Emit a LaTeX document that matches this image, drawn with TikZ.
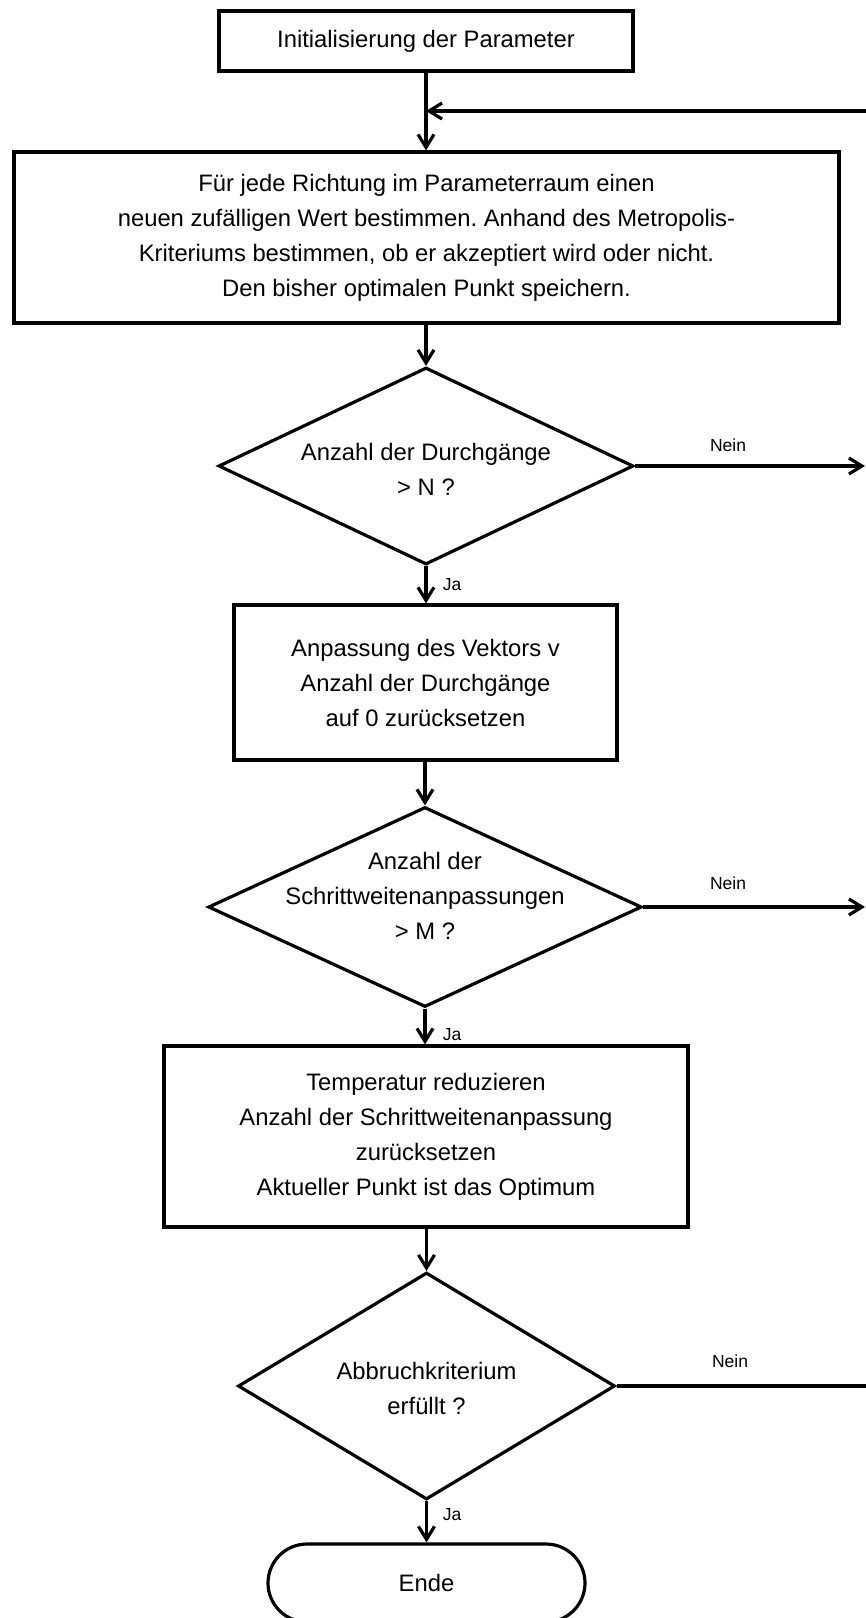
\documentclass[tikz,border=0pt]{standalone}
\usepackage{fontspec}
\setmainfont{Liberation Sans}
\usetikzlibrary{shapes.geometric,arrows.meta}
\frenchspacing
\begin{document}
\begin{tikzpicture}[x=0.5pt,y=-0.5pt,
  every node/.style={font=\fontsize{11.9}{17.5}\selectfont},
  box/.style={draw,line width=1.6pt,rectangle,inner sep=0pt,align=center},
  dia/.style={draw,line width=1.6pt,diamond,inner sep=0pt},
  endbox/.style={draw,line width=1.6pt,rectangle,rounded corners=19.5pt,inner sep=0pt},
  txt/.style={align=center,inner sep=0pt},
  lbl/.style={font=\fontsize{8.75}{10}\selectfont,inner sep=0pt},
  arr/.style={line width=1.6pt,-{Straight Barb[length=6.5pt,width=8pt]}},
  ln/.style={line width=1.6pt}]
\useasboundingbox (0,0) rectangle (866,1618);

\node[box,minimum width=207pt,minimum height=30pt] (b1) at (426,41) {Initialisierung der Parameter};
\node[box,minimum width=412.5pt,minimum height=85.5pt] (b2) at (426.5,237.5)
  {Für jede Richtung im Parameterraum einen\\neuen zufälligen Wert bestimmen. Anhand des Metropolis-\\Kriteriums bestimmen, ob er akzeptiert wird oder nicht.\\Den bisher optimalen Punkt speichern.};
\node[dia,minimum width=207.5pt,minimum height=98.5pt] (d1) at (426,466) {};
\node[txt] (d1t) at (426,469) {Anzahl der Durchgänge\\> N ?};
\node[box,minimum width=191.5pt,minimum height=77.5pt] (b3) at (425.5,682.5)
  {Anpassung des Vektors v\\Anzahl der Durchgänge\\auf 0 zurücksetzen};
\node[dia,minimum width=216.75pt,minimum height=100pt] (d2) at (425,907) {};
\node[txt] (d2t) at (425,896) {Anzahl der\\Schrittweitenanpassungen\\> M ?};
\node[box,minimum width=262pt,minimum height=90.5pt] (b4) at (426,1136.5)
  {Temperatur reduzieren\\Anzahl der Schrittweitenanpassung\\zurücksetzen\\Aktueller Punkt ist das Optimum};
\node[dia,minimum width=188.5pt,minimum height=113.5pt] (d3) at (426.5,1386) {};
\node[txt] (d3t) at (426.5,1388) {Abbruchkriterium\\erfüllt ?};
\node[endbox,minimum width=158.5pt,minimum height=39pt] (ende) at (426.5,1583) {Ende};

\coordinate (fb) at (866,111);
\coordinate (n1) at (865,466);
\coordinate (n2) at (865,907);
\coordinate (n3) at (866,1386);

\draw[arr] (b1.south) -- (b1.south |- b2.north);
\draw[arr] (fb) -- (fb -| b1.south);
\draw[arr] (b2.south -| d1.north) -- (d1.north);
\draw[arr] (d1.south) -- (d1.south |- b3.north);
\draw[arr] (d1.east) -- (n1);
\draw[arr] (b3.south -| d2.north) -- (d2.north);
\draw[arr] (d2.south) -- (d2.south |- b4.north);
\draw[arr] (d2.east) -- (n2);
\draw[arr] (b4.south -| d3.north) -- (d3.north);
\draw[arr] (d3.south) -- (d3.south |- ende.north);
\draw[ln] (d3.east) -- (n3);

\node[lbl] (ja1) at (452,585) {Ja};
\node[lbl] (ja2) at (452,1035) {Ja};
\node[lbl] (ja3) at (452,1515) {Ja};
\node[lbl] (ne1) at (728,445) {Nein};
\node[lbl] (ne2) at (728,883) {Nein};
\node[lbl] (ne3) at (730,1361) {Nein};
\end{tikzpicture}
\end{document}
